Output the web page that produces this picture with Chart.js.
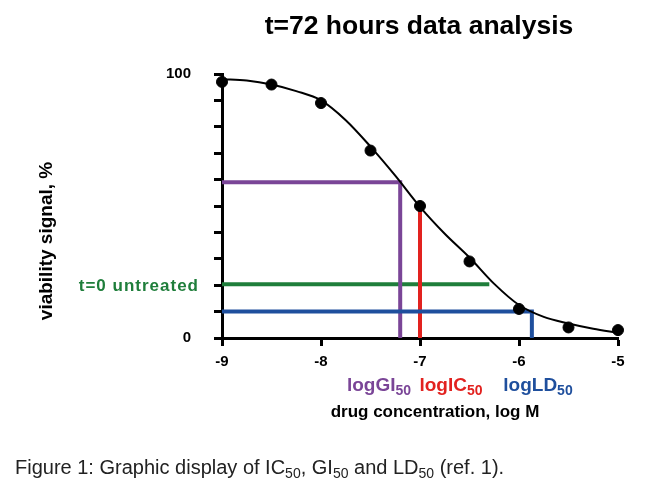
<!DOCTYPE html>
<html>
<head>
<meta charset="utf-8">
<script src="https://cdn.jsdelivr.net/npm/chart.js@4"></script>
<style>
html,body{margin:0;padding:0;background:#fff;}
#wrap{width:650px;height:500px;position:relative;}
</style>
</head>
<body>
<div id="wrap"><canvas id="c" width="650" height="500"></canvas></div>
<script>
// ---- data ----
const concLog = [-9, -8.5, -8, -7.5, -7, -6.5, -6, -5.5, -5];
const viability = [97, 96, 89, 71, 50, 29, 11, 4, 3];
const fitX = [-9, -8.75, -8.5, -8.25, -8, -7.75, -7.5, -7.25, -7, -6.75, -6.5, -6.25, -6, -5.75, -5.5, -5.25, -5];
const fitY = [98, 97.5, 96, 93.5, 90, 82.5, 72.5, 61.5, 49.7, 39.5, 30.5, 20.5, 12.5, 8, 5.5, 3.5, 2];
const logGI50 = -7.2, gi50Level = 59;
const logIC50 = -7.0, ic50Level = 50;
const logLD50 = -5.87, ld50Level = 10;
const untreatedLevel = 20.4, untreatedEnd = -6.3;
const xTicks = [-9, -8, -7, -6, -5];
const yLabelTicks = [0, 100];

const FONT = "'Liberation Sans', Arial, Helvetica, sans-serif";
const colors = {purple:'#7a4597', red:'#e2221f', green:'#1f7e3b', blue:'#1f4f9d'};

function xy(xs, ys){ return xs.map((x,i)=>({x:x,y:ys[i]})); }

function drawSub(ctx, parts, x, y, size, color, align, bold, subScale){
  const w = bold ? 'bold ' : '';
  const ss = subScale || 0.72;
  let total = 0;
  parts.forEach(p=>{ ctx.font = w + (p[1]?Math.round(size*ss):size) + 'px ' + FONT; total += ctx.measureText(p[0]).width; });
  let cx = align==='center' ? x-total/2 : (align==='right' ? x-total : x);
  ctx.fillStyle = color; ctx.textAlign='left'; ctx.textBaseline='alphabetic';
  parts.forEach(p=>{
    ctx.font = w + (p[1]?Math.round(size*ss):size) + 'px ' + FONT;
    ctx.fillText(p[0], cx, y + (p[1]? size*0.22 : 0));
    cx += ctx.measureText(p[0]).width;
  });
}

const textPlugin = {
  id:'texts',
  afterDraw(chart){
    const ctx = chart.ctx;
    ctx.save();
    // title
    ctx.fillStyle='#000'; ctx.textAlign='center'; ctx.textBaseline='middle';
    ctx.font = 'bold 26.5px ' + FONT;
    ctx.fillText('t=72 hours data analysis', 419, 27);
    // x title
    ctx.font = 'bold 17px ' + FONT;
    ctx.fillText('drug concentration, log M', 435, 412);
    // y title
    ctx.save();
    ctx.translate(47, 241); ctx.rotate(-Math.PI/2);
    ctx.font = 'bold 19px ' + FONT;
    ctx.fillText('viability signal, %', 0, 0);
    ctx.restore();
    // untreated label
    ctx.fillStyle = colors.green; ctx.textAlign='right';
    ctx.font = 'bold 17px ' + FONT;
    ctx.letterSpacing = '1px';
    ctx.fillText('t=0 untreated', 199, 286);
    ctx.letterSpacing = '0px';
    // log labels
    drawSub(ctx, [['logGI',0],['50',1]], 379, 391, 19, colors.purple, 'center', true, 0.74);
    drawSub(ctx, [['logIC',0],['50',1]], 451, 391, 19, colors.red, 'center', true, 0.74);
    drawSub(ctx, [['logLD',0],['50',1]], 538, 391, 19, colors.blue, 'center', true, 0.74);
    // caption
    drawSub(ctx, [['Figure 1: Graphic display of IC',0],['50',1],[', GI',0],['50',1],[' and LD',0],['50',1],[' (ref. 1).',0]], 15, 474, 20, '#222', 'left', false, 0.68);
    ctx.restore();
  }
};

new Chart(document.getElementById('c'), {
  type:'scatter',
  data:{
    datasets:[
      {label:'fit', type:'line', data:xy(fitX, fitY), borderColor:'#000', borderWidth:2, pointRadius:0, cubicInterpolationMode:'monotone', fill:false, clip:false, order:1},
      {label:'data', data:xy(concLog, viability), backgroundColor:'#000', borderColor:'#000', pointRadius:5.5, clip:false, order:0},
      {label:'GI50', type:'line', data:[{x:-9,y:gi50Level},{x:logGI50,y:gi50Level},{x:logGI50,y:0}], borderColor:colors.purple, borderWidth:4, pointRadius:0, fill:false, clip:false, order:4},
      {label:'IC50', type:'line', data:[{x:logIC50,y:0},{x:logIC50,y:ic50Level}], borderColor:colors.red, borderWidth:4, pointRadius:0, fill:false, clip:false, order:3},
      {label:'untreated', type:'line', data:[{x:-9,y:untreatedLevel},{x:untreatedEnd,y:untreatedLevel}], borderColor:colors.green, borderWidth:4, pointRadius:0, fill:false, clip:false, order:5},
      {label:'LD50', type:'line', data:[{x:-9,y:ld50Level},{x:logLD50,y:ld50Level},{x:logLD50,y:0}], borderColor:colors.blue, borderWidth:4, pointRadius:0, fill:false, clip:false, order:2}
    ]
  },
  options:{
    responsive:false, animation:false,
    layout:{padding:{left:0,right:32,top:74,bottom:0}},
    plugins:{legend:{display:false}, tooltip:{enabled:false}, title:{display:false}},
    scales:{
      x:{type:'linear', min:-9, max:-5,
        afterBuildTicks(s){ s.ticks = xTicks.map(v=>({value:v})); },
        afterFit(s){ s.height = 162; },
        ticks:{color:'#000', font:{family:FONT, size:15, weight:'bold'}, padding:7, callback:v=>String(v)},
        grid:{drawOnChartArea:false, drawTicks:true, tickLength:8, tickWidth:3, color:'#000'},
        border:{display:true, width:3, color:'#000'}
      },
      y:{type:'linear', min:0, max:100,
        ticks:{stepSize:10, color:'#000', font:{family:FONT, size:15, weight:'bold'}, padding:23,
          callback:v=> yLabelTicks.includes(v) ? String(v) : ''},
        afterFit(s){ s.width = 222; },
        grid:{drawOnChartArea:false, drawTicks:true, tickLength:8, tickWidth:3, color:'#000'},
        border:{display:true, width:3, color:'#000'}
      }
    }
  },
  plugins:[textPlugin]
});
</script>
</body>
</html>
